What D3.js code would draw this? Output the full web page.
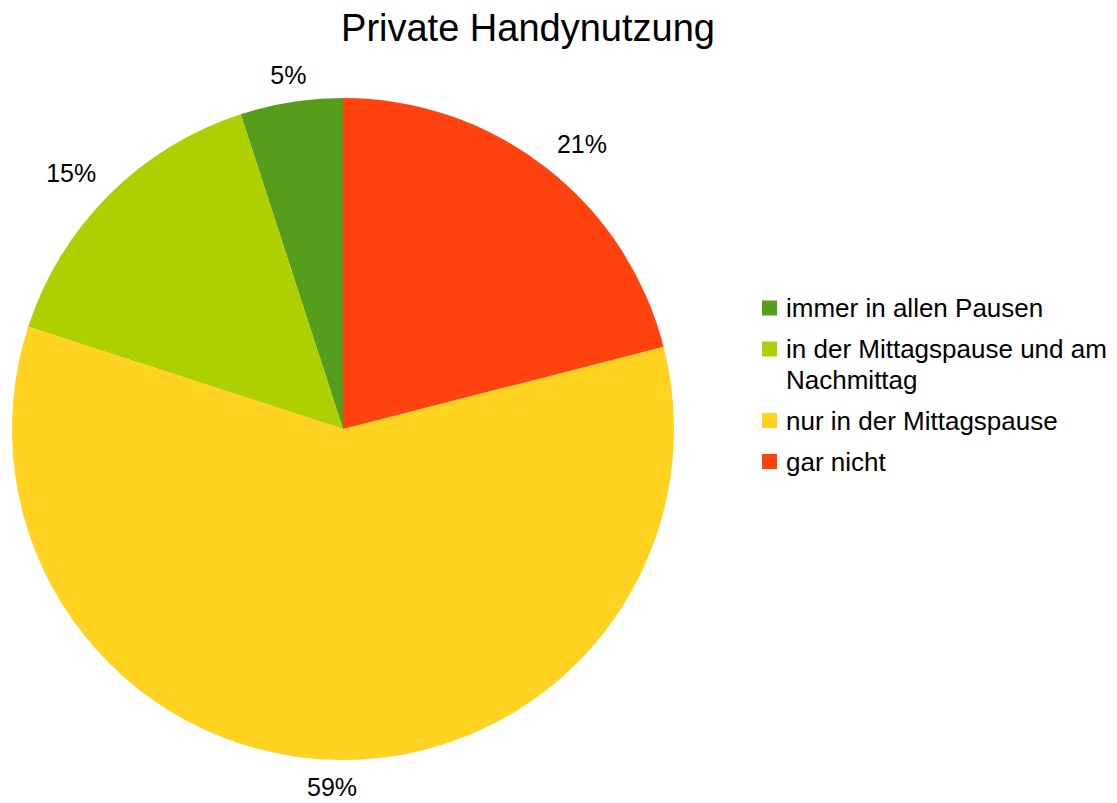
<!DOCTYPE html>
<html>
<head>
<meta charset="utf-8">
<script src="https://cdn.jsdelivr.net/npm/d3@7"></script>
<style>
  html, body { margin: 0; padding: 0; background: #ffffff; }
  svg { display: block; }
  text { font-family: "Liberation Sans", Arial, sans-serif; fill: #000; }
</style>
</head>
<body>
<svg id="chart" width="1117" height="803"></svg>
<script>
// Private Handynutzung – share of answers per category (percent)
const categories = [
  "immer in allen Pausen",
  "in der Mittagspause und am Nachmittag",
  "nur in der Mittagspause",
  "gar nicht"
];
const values = [5, 15, 59, 21];
const colors = ["#579D1C", "#AECF00", "#FFD320", "#FF420E"];
const title = "Private Handynutzung";

const svg = d3.select("#chart");

const cx = 343, cy = 429, R = 331;
const labelFont = 25, legendFont = 26, titleFont = 38;

// Title
svg.append("text")
  .attr("x", 528).attr("y", 41)
  .attr("text-anchor", "middle")
  .style("font-size", titleFont + "px")
  .text(title);

const data = categories.map((c, i) => ({ name: c, value: values[i], color: colors[i] }));

// Slices run counter-clockwise from twelve o'clock
const pie = d3.pie().value(d => d.value).sort(null)
  .startAngle(0).endAngle(-2 * Math.PI);
const arcs = pie(data);
const arc = d3.arc().innerRadius(0).outerRadius(R);

const g = svg.append("g").attr("transform", `translate(${cx},${cy})`);
g.selectAll("path.slice").data(arcs).enter().append("path")
  .attr("class", "slice")
  .attr("d", arc)
  .attr("fill", d => d.data.color);

// Percentage labels: anchored just outside the rim, the text box
// placed on the outward side of the anchor point
const total = d3.sum(values);
const gap = 18;
const capH = 0.716 * labelFont;
const edge = Math.sin(Math.PI / 8);
g.selectAll("text.pct").data(arcs).enter().append("text")
  .attr("class", "pct")
  .style("font-size", labelFont + "px")
  .attr("text-anchor", "middle")
  .text(d => Math.round(d.data.value / total * 100) + "%")
  .each(function(d) {
    const a = (d.startAngle + d.endAngle) / 2;
    const s = Math.sin(a), c = -Math.cos(a);
    const hw = this.getComputedTextLength() / 2, hh = capH / 2;
    const r = R + gap;
    const ox = s > edge ? hw : (s < -edge ? -hw : 0);
    const oy = c > edge ? hh : (c < -edge ? -hh : 0);
    d3.select(this)
      .attr("x", s * r + ox)
      .attr("y", c * r + oy + hh);
  });

// Legend
const legX = 762, legTextX = 786, legTop = 308, lineH = 30.5, itemGap = 41, maxW = 325;
const box = 15;
const legend = svg.append("g");
let yc = legTop;
data.forEach(d => {
  const item = legend.append("g");
  item.append("rect")
    .attr("x", legX).attr("y", yc - box / 2)
    .attr("width", box).attr("height", box)
    .attr("fill", d.color);
  const t = item.append("text")
    .attr("x", legTextX)
    .style("font-size", legendFont + "px");
  // simple word wrap
  const words = d.name.split(" ");
  let lines = [], cur = "";
  const probe = t.append("tspan");
  words.forEach(w => {
    const test = cur ? cur + " " + w : w;
    probe.text(test);
    if (probe.node().getComputedTextLength() > maxW && cur) {
      lines.push(cur); cur = w;
    } else cur = test;
  });
  lines.push(cur);
  probe.remove();
  const base = 0.716 * legendFont / 2;
  lines.forEach((ln, i) => {
    t.append("tspan")
      .attr("x", legTextX)
      .attr("y", yc + i * lineH + base)
      .text(ln);
  });
  yc += itemGap + (lines.length - 1) * lineH;
});
</script>
</body>
</html>
